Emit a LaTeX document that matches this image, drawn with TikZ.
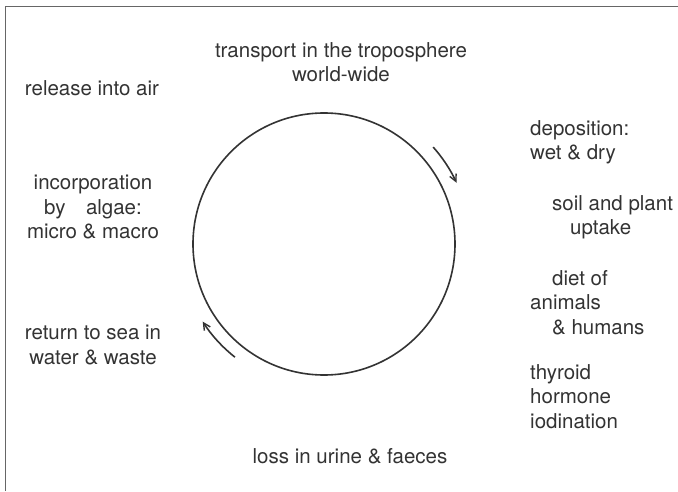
\documentclass[tikz,border=0pt]{standalone}
\usepackage{fontspec}
\setmainfont{TeX Gyre Heros}
\usepackage{xcolor}
\usepackage{tikz}
\usetikzlibrary{positioning, calc, arrows.meta}
\definecolor{ink}{HTML}{333333}
\definecolor{rule}{HTML}{666666}

\begin{document}
\begin{tikzpicture}[x=1pt, y=1pt, >={Straight Barb[length=7pt, width=7pt, line width=1.4pt]},
  lbl/.style={inner sep=0pt, text=ink, font=\fontsize{20.5}{24.5}\selectfont},
  ring/.style={draw=ink, line width=1.6pt}]
\useasboundingbox (0,0) rectangle (678,491);
% frame (top and left edges only)
\draw[rule, line width=1pt] (5,0) -- (5,484) -- (678,484);
% the cycle
\node[ring, circle, minimum size=262pt, inner sep=0pt] (cycle) at (324,247) {};
% labels round the cycle
\node[lbl, anchor=north, align=center] (transport) at (341,449) {transport in the troposphere\\world-wide};
\node[lbl, anchor=north west, align=left] (depo) at (530,371) {deposition:\\wet \& dry};
\node[lbl, anchor=north west, align=left] (uptake) at (552,296) {soil and plant\\\hspace*{18pt}uptake};
\node[lbl, anchor=north west, align=left] (diet) at (530,221) {\hspace*{22pt}diet of\\animals\\\hspace*{22pt}\& humans};
\node[lbl, anchor=north west, align=left] (thyroid) at (530,127) {thyroid\\hormone\\iodination};
\node[lbl, anchor=north] (loss) at (350,43) {loss in urine \& faeces};
\node[lbl, anchor=north, align=center] (seareturn) at (93,166) {return to sea in\\water \& waste};
\node[lbl, anchor=north, align=center] (algae) at (93,316) {incorporation\\by\quad algae:\\micro \& macro};
\node[lbl, anchor=north] (release) at (92,411) {release into air};
% direction arrows
\draw[->, ink, line width=1.6pt] ($(cycle.center)+(41.6:146)$) arc[start angle=41.6, end angle=24.8, radius=146];
\draw[->, ink, line width=1.6pt] ($(cycle.center)+(231.8:144)$) arc[start angle=231.8, end angle=212.6, radius=144];
\end{tikzpicture}
\end{document}
